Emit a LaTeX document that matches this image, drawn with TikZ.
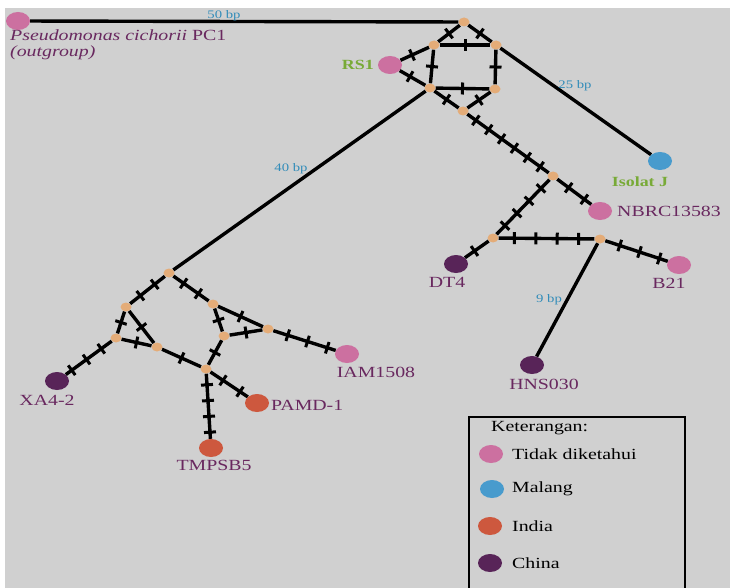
\documentclass[tikz,border=0pt]{standalone}
\usepackage{fontspec}
\setmainfont{Liberation Serif}[FakeStretch=1.28]
\usetikzlibrary{calc,shapes.geometric}

\definecolor{bggray}{RGB}{208,208,208}
\definecolor{unkpink}{RGB}{204,112,160}
\definecolor{mlgblue}{RGB}{72,155,205}
\definecolor{indred}{RGB}{205,88,62}
\definecolor{chnpurple}{RGB}{88,36,88}
\definecolor{medtan}{RGB}{228,172,120}
\definecolor{labpurple}{RGB}{105,40,95}
\definecolor{bpblue}{RGB}{50,140,185}
\definecolor{isogreen}{RGB}{120,170,55}

\pgfdeclarelayer{back}
\pgfdeclarelayer{links}
\pgfsetlayers{back,links,main}

% line between two haplotypes with #3 mutation bars
\newcommand{\mutlink}[3]{%
  \draw[link] (#1) -- (#2);
  \foreach \k in {1,...,#3}
    \draw[mut] ($(#1)!{\k/(#3+1)}!(#2)!6pt!90:(#2)$) -- ($(#1)!{\k/(#3+1)}!(#2)!6pt!-90:(#2)$);
}

\begin{document}
\begin{tikzpicture}[
	x=1pt, y=-1pt,
	hap/.style={ ellipse, inner sep=0pt, minimum width=24pt, minimum height=18pt },
	med/.style={ ellipse, fill=medtan, inner sep=0pt, minimum width=11pt, minimum height=9pt },
	link/.style={ line width=3.4pt },
	mut/.style={ line width=3pt },
	lab/.style={ text=labpurple, inner sep=0pt, font=\fontsize{15.5}{16.5}\selectfont },
	bp/.style={ text=bpblue, inner sep=0pt, font=\fontsize{11.5}{12}\selectfont },
	grn/.style={ text=isogreen, inner sep=0pt, font=\fontsize{14}{15}\selectfont\bfseries },
	leg/.style={ inner sep=0pt, anchor=west, font=\fontsize{15.5}{16}\selectfont }
]
\useasboundingbox (0,0) rectangle (730,588);
\begin{pgfonlayer}{back}
\fill[bggray] (5,8) rectangle (730,588);
\end{pgfonlayer}

% haplotypes
\node at (18,21) (pc) [hap,fill=unkpink] {};
\node at (390,65) (rs) [hap,fill=unkpink] {};
\node at (660,161) (isj) [hap,fill=mlgblue] {};
\node at (600,211) (nbrc) [hap,fill=unkpink] {};
\node at (456,264) (dt) [hap,fill=chnpurple] {};
\node at (679,265) (bb) [hap,fill=unkpink] {};
\node at (532,365) (hns) [hap,fill=chnpurple] {};
\node at (57,381) (xa) [hap,fill=chnpurple] {};
\node at (347,354) (iam) [hap,fill=unkpink] {};
\node at (257,403) (pamd) [hap,fill=indred] {};
\node at (211,448) (tmp) [hap,fill=indred] {};

% median vectors
\node at (464,22) (m1) [med] {};
\node at (434,45) (m2) [med] {};
\node at (496,45) (m3) [med] {};
\node at (430,88) (m4) [med] {};
\node at (495,89) (m5) [med] {};
\node at (463,111) (m6) [med] {};
\node at (553,176) (m7) [med] {};
\node at (493,238) (m8) [med] {};
\node at (600,239) (m9) [med] {};
\node at (169,273) (m10) [med] {};
\node at (126,307) (m11) [med] {};
\node at (116,338) (m12) [med] {};
\node at (157,347) (m13) [med] {};
\node at (213,304) (m14) [med] {};
\node at (224,336) (m15) [med] {};
\node at (268,329) (m16) [med] {};
\node at (206,369) (m17) [med] {};

\begin{pgfonlayer}{links}
\draw[link] (pc) -- (m1);
\draw[link] (m3) -- (isj);
\draw[link] (m4) -- (m10);
\draw[link] (m9) -- (hns);

\mutlink{m1}{m2}{1}
\mutlink{m1}{m3}{1}
\mutlink{m2}{m3}{1}
\mutlink{m2}{m4}{1}
\mutlink{m3}{m5}{1}
\mutlink{m4}{m5}{1}
\mutlink{rs}{m2}{1}
\mutlink{rs}{m4}{1}
\mutlink{m4}{m6}{1}
\mutlink{m5}{m6}{1}
\mutlink{m6}{m7}{6}
\mutlink{m7}{nbrc}{2}
\mutlink{m7}{m8}{4}
\mutlink{m8}{dt}{1}
\mutlink{m8}{m9}{4}
\mutlink{m9}{bb}{3}

\mutlink{m10}{m11}{2}
\mutlink{m10}{m14}{2}
\mutlink{m11}{m12}{1}
\mutlink{m11}{m13}{1}
\mutlink{m12}{m13}{1}
\mutlink{m12}{xa}{3}
\mutlink{m13}{m17}{1}
\mutlink{m14}{m15}{1}
\mutlink{m14}{m16}{1}
\mutlink{m15}{m16}{1}
\mutlink{m15}{m17}{1}
\mutlink{m16}{iam}{3}
\mutlink{m17}{pamd}{2}
\mutlink{m17}{tmp}{4}
\end{pgfonlayer}

% distances
\node at (224,16) (d50) [bp] {50 bp};
\node at (575,86) (d25) [bp] {25 bp};
\node at (291,169) (d40) [bp] {40 bp};
\node at (549,300) (d9) [bp] {9 bp};

% names
\node at (10,45) (tpc) [lab,anchor=west,align=left] {\textit{Pseudomonas cichorii} PC1\\\textit{(outgroup)}};
\node at (374,65) (trs) [grn,anchor=east] {RS1};
\node at (640,182) (tisj) [grn] {Isolat J};
\node at (617,211) (tnbrc) [lab,anchor=west] {NBRC13583};
\node at (447,282) (tdt) [lab] {DT4};
\node at (669,283) (tbb) [lab] {B21};
\node at (544,384) (thns) [lab] {HNS030};
\node at (47,400) (txa) [lab] {XA4-2};
\node at (376,372) (tiam) [lab] {IAM1508};
\node at (271,405) (tpamd) [lab,anchor=west] {PAMD-1};
\node at (214,465) (ttmp) [lab] {TMPSB5};

% legend
\draw[line width=1.5pt] (469,595) |- (685,417) -- (685,595);
\node at (491,428) (lt0) [leg] {Keterangan:};
\node at (491,454) (lg1) [hap,fill=unkpink] {};
\node at (512,454) (lt1) [leg] {Tidak diketahui};
\node at (492,489) (lg2) [hap,fill=mlgblue] {};
\node at (512,489) (lt2) [leg] {Malang};
\node at (490,526) (lg3) [hap,fill=indred] {};
\node at (512,526) (lt3) [leg] {India};
\node at (490,563) (lg4) [hap,fill=chnpurple] {};
\node at (512,563) (lt4) [leg] {China};

\end{tikzpicture}
\end{document}
